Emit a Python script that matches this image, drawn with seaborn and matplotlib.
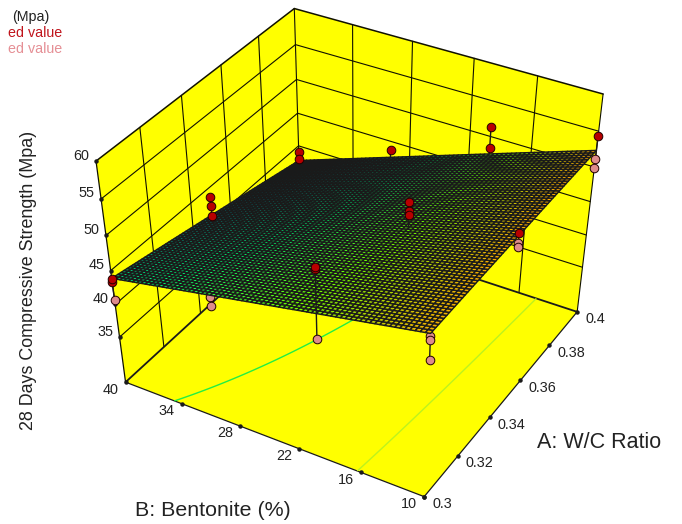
import numpy as np, matplotlib
matplotlib.use('Agg')
import matplotlib.pyplot as plt
import seaborn as sns
from matplotlib.transforms import IdentityTransform
from mpl_toolkits.mplot3d.art3d import Poly3DCollection

# ---- values ----
a_ticks = [0.3, 0.32, 0.34, 0.36, 0.38, 0.4]
a_tick_labels = ['0.3', '0.32', '0.34', '0.36', '0.38', '0.4']
b_ticks = [40, 34, 28, 22, 16, 10]
z_ticks = [35, 40, 45, 50, 55, 60]
z_floor = 27.8

# surface heights read at these positions (rows: A, columns: B)
read_a = [0.3, 0.35, 0.4]
read_b = [40, 30, 20, 10]
read_z = [[43.8, 46.8, 49.1, 52.1],
          [40.8, 44.7, 48.6, 52.1],
          [37.8, 42.4, 47.5, 52.4]]

above_a = [.3, .3, .35, .35, .35, .4, .4, .4, .4, .4, .4, .35, .3, .3, .35, .35, .35]
above_b = [40, 40, 40, 40, 40, 40, 40, 30, 20, 20, 10, 10, 20, 20, 20, 20, 20]
above_z = [43.3, 43.8, 43.5, 42.2, 40.7, 39.1, 37.9, 43.7, 51.4, 48.3, 54.3, 52.6, 55.3, 55.6, 52.1, 50.8, 50.3]

below_a = [.3, .3, .3, .4, .4, .35, .35, .3, .3, .3, .3]
below_b = [40, 30, 30, 10, 10, 10, 10, 10, 10, 10, 20]
below_z = [40.7, 46.3, 45.1, 51.1, 49.9, 51.2, 50.7, 51.7, 51.1, 48.4, 45.7]

contour_levels = [45.3, 50.3]
contour_colors = ['#22EE44', '#BDF21E']

texts_left = [('(Mpa)', 12, 17, '#222222'), ('ed value', 8, 33, '#C0141C'), ('ed value', 8, 49, '#E58F95')]

# ---- camera: the perspective of the box, calibrated on its corners (image pixels) ----
calib = [(.3, 40, 60, 95.3, 163.3), (.3, 40, z_floor, 126.7, 386), (.3, 10, z_floor, 424.3, 495.7),
         (.4, 10, z_floor, 576, 313.3), (.4, 10, 60, 604.3, 93.3), (.4, 40, 60, 294.3, 11.3),
         (.3, 40, 35, 119.7, 335.7), (.3, 40, 45, 110, 266.7), (.4, 40, 50, 296, 78), (.4, 40, 40, 299, 144)]
W, Hh = 682, 524
rows = []
for a, b, z, u, v in calib:
    p = [a, b, z, 1]
    rows.append(p + [0, 0, 0, 0] + [-u * q for q in p])
    rows.append([0, 0, 0, 0] + p + [-v * q for q in p])
H = np.linalg.svd(np.array(rows))[2][-1].reshape(3, 4)


def px(a, b, z):
    w = H @ np.array([a, b, z, 1.0])
    return w[0] / w[2], w[1] / w[2]


sns.set_theme(style='white')
plt.rcParams['font.family'] = ['Liberation Sans', 'DejaVu Sans']
fig = plt.figure(figsize=(W / 100, Hh / 100), dpi=100)
ax = fig.add_axes([0, 0, 1, 1], projection='3d', computed_zorder=False)
ax.set_axis_off()
ax.set_proj_type('ortho')
ax.apply_aspect = lambda position=None: None
ax.set_xlim(0.3, 0.4); ax.set_ylim(10, 40); ax.set_zlim(z_floor, 60)


def get_proj():
    flip = np.array([[1, 0, 0], [0, -1, Hh], [0, 0, 1.0]])
    P = np.linalg.inv(ax.transData.get_matrix()) @ flip @ H
    return np.vstack([P[0], P[1], [1.0, 0.01, 0.01, 0.0], P[2]])


ax.get_proj = get_proj

# walls and floor
YEL = '#FFFF00'
def poly(verts, z):
    ax.add_collection3d(Poly3DCollection([verts], facecolor=YEL, edgecolor='none', zorder=z))

poly([(.3, 40, z_floor), (.4, 40, z_floor), (.4, 40, 60), (.3, 40, 60)], 1)
poly([(.4, 40, z_floor), (.4, 10, z_floor), (.4, 10, 60), (.4, 40, 60)], 1)
poly([(.3, 40, z_floor), (.3, 10, z_floor), (.4, 10, z_floor), (.4, 40, z_floor)], 3)


def line(a, b, z, lw=0.8, zo=2, c='#111100'):
    ax.plot(a, b, z, color=c, lw=lw, zorder=zo, solid_capstyle='round')


for z in z_ticks[:-1]:
    line([.3, .4], [40, 40], [z, z])
    line([.4, .4], [40, 10], [z, z])
for a in a_ticks[1:-1]:
    line([a, a], [40, 40], [z_floor, 60])
for b in b_ticks[1:-1]:
    line([.4, .4], [b, b], [z_floor, 60])
line([.4, .4], [40, 40], [z_floor, 60], lw=0.8)
line([.3, .3], [40, 40], [z_floor, 60], lw=0.9, zo=4)
line([.4, .4], [10, 10], [z_floor, 60], lw=0.8, zo=4)
line([.3, .4], [40, 40], [60, 60], lw=1.1, zo=4)
line([.4, .4], [40, 10], [60, 60], lw=1.1, zo=4)
line([.3, .4], [40, 40], [z_floor, z_floor], lw=1.3, zo=4, c='k')
line([.4, .4], [40, 10], [z_floor, z_floor], lw=1.3, zo=4, c='k')
line([.3, .3], [40, 10], [z_floor, z_floor], lw=0.9, zo=4, c='k')
line([.3, .4], [10, 10], [z_floor, z_floor], lw=0.9, zo=4, c='k')

# tick dots
dot = dict(ls='none', marker='o', ms=2.2, color='k', zorder=5)
ax.plot([.3] * 6, b_ticks, [z_floor] * 6, **dot)
ax.plot(a_ticks, [10] * 6, [z_floor] * 6, **dot)
ax.plot([.3] * 6, [40] * 6, z_ticks, **dot)

# response surface: the quadratic model such a chart shows, fitted to the heights read above
ra, rb = np.meshgrid(read_a, read_b, indexing='ij')
def basis(a, b):
    return np.stack([np.ones_like(a), a, b, a * a, b * b, a * b], axis=-1)
coef = np.linalg.lstsq(basis(ra.ravel(), rb.ravel()), np.array(read_z).ravel(), rcond=None)[0]
def model(a, b):
    return basis(np.asarray(a, float), np.asarray(b, float)) @ coef

N = 70
gA, gB = np.meshgrid(np.linspace(.3, .4, N), np.linspace(10, 40, N))
gZ = model(gA, gB)
cmap = sns.blend_palette(['#004060', '#00A0A0', '#00F070', '#70FF00', '#FFA800'], as_cmap=True)
norm = plt.Normalize(37.8, 52.4)

cs = ax.contour(gA, gB, gZ, levels=contour_levels, colors=contour_colors, linewidths=1.0,
                zdir='z', offset=z_floor, zorder=4.5)

# below-surface points and stems go under the surface
RED, PINK = '#B80000', '#DE8C8C'
mk = dict(ls='none', marker='o', ms=6.2, mec='#200000', mew=0.7)
for a, b in sorted(set(zip(below_a, below_b))):
    zl = min(z for x, y, z in zip(below_a, below_b, below_z) if (x, y) == (a, b))
    line([a, a], [b, b], [float(model(a, b)), zl], lw=1.0, zo=6, c='k')
ax.plot(below_a, below_b, below_z, color=PINK, zorder=7, **mk)

ax.plot_surface(gA, gB, gZ, facecolors=cmap(norm(gZ)), rstride=1, cstride=1, shade=False,
                edgecolor='k', linewidth=1.05, antialiased=True, zorder=8)

for a, b in sorted(set(zip(above_a, above_b))):
    zh = max(z for x, y, z in zip(above_a, above_b, above_z) if (x, y) == (a, b))
    line([a, a], [b, b], [float(model(a, b)), zh], lw=1.0, zo=9, c='k')
ax.plot(above_a, above_b, above_z, color=RED, zorder=10, **mk)

# text
I = IdentityTransform()
def label(x, y, s, **kw):
    kw.setdefault('color', '#222222')
    kw.setdefault('va', 'center')
    fig.text(x, Hh - y, s, transform=I, **kw)

TS = 10.4
for b in b_ticks:
    u, v = px(.3, b, z_floor)
    label(u - 15, v + 7.5, str(b), ha='center', fontsize=TS)
for a, s in zip(a_ticks, a_tick_labels):
    u, v = px(a, 10, z_floor)
    label(u + 8, v + 7.5, s, ha='left', fontsize=TS)
for z in z_ticks:
    u, v = px(.3, 40, z)
    label(u - 6.5, v - 5.5, str(z), ha='right', fontsize=TS)

label(213, 510, 'B: Bentonite (%)', ha='center', fontsize=15.4)
label(599.5, 442, 'A: W/C Ratio', ha='center', fontsize=15.5)
label(29, 280, '28 Days Compressive Strength (Mpa)', ha='center', rotation=90, fontsize=12.9)
for s, x, y, c in texts_left:
    label(x, y, s, ha='left', fontsize=10.3, color=c)

fig.savefig('out.png', dpi=100)
